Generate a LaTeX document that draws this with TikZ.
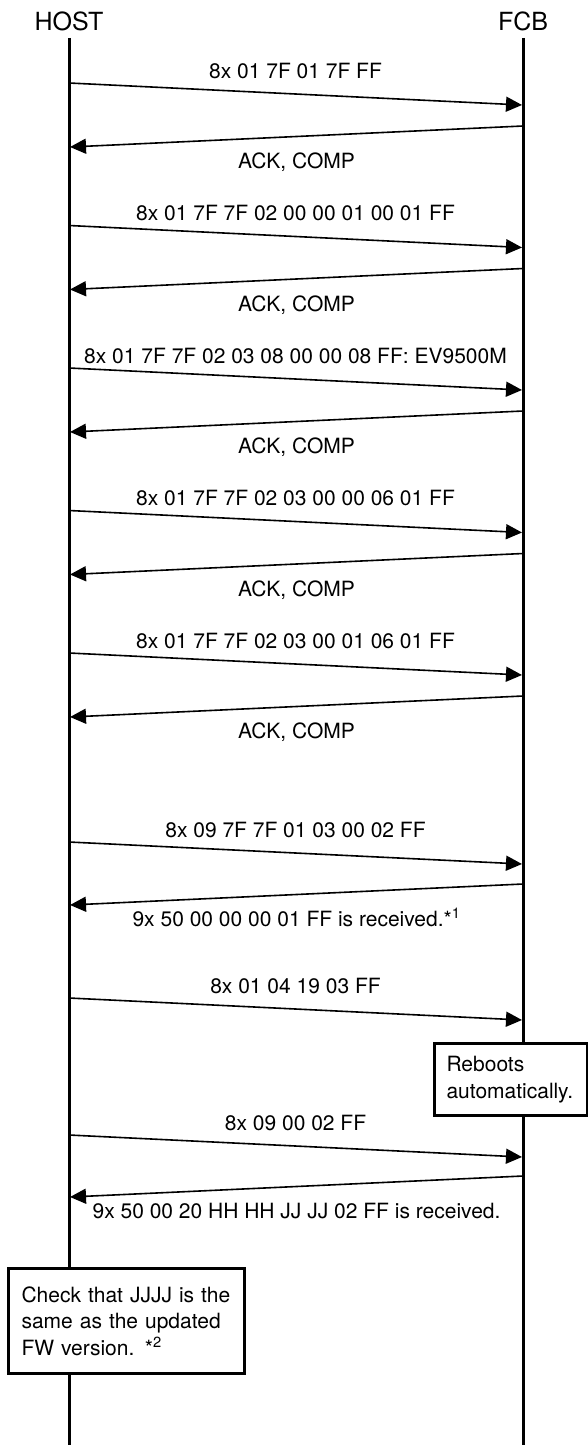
\documentclass[tikz,border=0pt]{standalone}
\usepackage{fontspec}
\setmainfont{TeX Gyre Heros}
\usetikzlibrary{arrows.meta}

\begin{document}
\begin{tikzpicture}[x = {(1pt,0pt)},
                    y = {(0pt,-1pt)},
                    font = \fontsize{21}{26.5}\selectfont]

  \useasboundingbox (0,0) rectangle (587,1445);


  % DEF POINTS
  \coordinate (host_top) at (69, 38);
  \coordinate (host_bot) at (69, 1445);
  \coordinate (fcb_top) at (523, 38);
  \coordinate (fcb_bot) at (523, 1445);

  \coordinate (h_req1) at (69, 83);     \coordinate (f_req1) at (522, 105);
  \coordinate (f_ack1) at (523, 126);   \coordinate (h_ack1) at (70, 147);
  \coordinate (h_req2) at (69, 225.5);  \coordinate (f_req2) at (522, 247.5);
  \coordinate (f_ack2) at (523, 268.5); \coordinate (h_ack2) at (70, 289.5);
  \coordinate (h_req3) at (69, 368);    \coordinate (f_req3) at (522, 390);
  \coordinate (f_ack3) at (523, 411);   \coordinate (h_ack3) at (70, 432);
  \coordinate (h_req4) at (69, 510.5);  \coordinate (f_req4) at (522, 532.5);
  \coordinate (f_ack4) at (523, 553.5); \coordinate (h_ack4) at (70, 574.5);
  \coordinate (h_req5) at (69, 653);    \coordinate (f_req5) at (522, 675);
  \coordinate (f_ack5) at (523, 696);   \coordinate (h_ack5) at (70, 717);
  \coordinate (h_req6) at (69, 842);    \coordinate (f_req6) at (522, 864);
  \coordinate (f_ack6) at (523, 884);   \coordinate (h_ack6) at (70, 905);
  \coordinate (h_req7) at (69, 998);    \coordinate (f_req7) at (522, 1020);
  \coordinate (h_req8) at (69, 1135);   \coordinate (f_req8) at (522, 1157);
  \coordinate (f_ack8) at (523, 1176);  \coordinate (h_ack8) at (70, 1197);


  % STYLES
  \tikzstyle{lifestyle} = [draw=black, line width=3pt]
  \tikzstyle{msgstyle} = [draw=black, line width=1.6pt, -{Triangle[length=16pt, width=15pt]}]
  \tikzstyle{reqlabel} = [midway, anchor=base, yshift=16pt, inner sep=0pt]
  \tikzstyle{acklabel} = [midway, anchor=base, yshift=-32pt, inner sep=0pt]
  \tikzstyle{notestyle} = [draw=black, line width=3pt, fill=white, align=left, anchor=north west]


  % HEADS and LIFELINES
  \node[anchor=base, font=\fontsize{25}{30}\selectfont] (host) at (69, 31) {HOST};
  \node[anchor=base, font=\fontsize{25}{30}\selectfont] (fcb) at (523, 31) {FCB};
  \draw[lifestyle] (host_top) -- (host_bot);
  \draw[lifestyle] (fcb_top) -- (fcb_bot);


  % MESSAGES
  \draw[msgstyle] (h_req1) -- (f_req1) node[reqlabel] (txt_req1) {8x 01 7F 01 7F FF};
  \draw[msgstyle] (f_ack1) -- (h_ack1) node[acklabel] (txt_ack1) {ACK, COMP};

  \draw[msgstyle] (h_req2) -- (f_req2) node[reqlabel] (txt_req2) {8x 01 7F 7F 02 00 00 01 00 01 FF};
  \draw[msgstyle] (f_ack2) -- (h_ack2) node[acklabel] (txt_ack2) {ACK, COMP};

  \draw[msgstyle] (h_req3) -- (f_req3) node[reqlabel] (txt_req3) {8x 01 7F 7F 02 03 08 00 00 08 FF: EV9500M};
  \draw[msgstyle] (f_ack3) -- (h_ack3) node[acklabel] (txt_ack3) {ACK, COMP};

  \draw[msgstyle] (h_req4) -- (f_req4) node[reqlabel] (txt_req4) {8x 01 7F 7F 02 03 00 00 06 01 FF};
  \draw[msgstyle] (f_ack4) -- (h_ack4) node[acklabel] (txt_ack4) {ACK, COMP};

  \draw[msgstyle] (h_req5) -- (f_req5) node[reqlabel] (txt_req5) {8x 01 7F 7F 02 03 00 01 06 01 FF};
  \draw[msgstyle] (f_ack5) -- (h_ack5) node[acklabel] (txt_ack5) {ACK, COMP};

  \draw[msgstyle] (h_req6) -- (f_req6) node[reqlabel] (txt_req6) {8x 09 7F 7F 01 03 00 02 FF};
  \draw[msgstyle] (f_ack6) -- (h_ack6) node[acklabel] (txt_ack6) {9x 50 00 00 00 01 FF is received.*\textsuperscript{1}};

  \draw[msgstyle] (h_req7) -- (f_req7) node[reqlabel] (txt_req7) {8x 01 04 19 03 FF};

  \draw[msgstyle] (h_req8) -- (f_req8) node[reqlabel] (txt_req8) {8x 09 00 02 FF};
  \draw[msgstyle] (f_ack8) -- (h_ack8) node[acklabel] (txt_ack8) {9x 50 00 20 HH HH JJ JJ 02 FF is received.};


  % NOTES
  \node[notestyle, text width=129pt, inner xsep=12pt, minimum height=72pt] (reboot) at (433, 1042)
    {Reboots\\automatically.};
  \node[notestyle, text width=210pt, inner xsep=13pt, minimum height=105pt] (check) at (7, 1267)
    {Check that JJJJ is the\\same as the updated\\FW version. *\textsuperscript{2}};

\end{tikzpicture}
\end{document}
